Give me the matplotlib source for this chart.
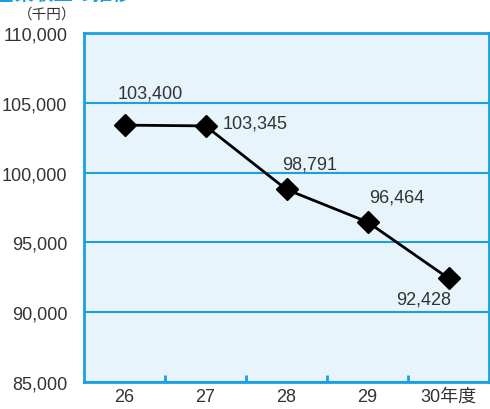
import matplotlib
matplotlib.use("Agg")
import matplotlib.pyplot as plt
from matplotlib.ticker import FuncFormatter, FixedLocator

plt.rcParams["font.family"] = ["Liberation Sans", "Noto Sans CJK JP", "DejaVu Sans"]

# ── Data ──────────────────────────────────────────────────────────────────────
years = ["26", "27", "28", "29", "30年度"]
values = [103400, 103345, 98791, 96464, 92428]
yticks = [85000, 90000, 95000, 100000, 105000, 110000]

BLUE = "#1aa0e0"
BG = "#e8f4fc"
TXT = "#333333"

fig = plt.figure(figsize=(4.9, 4.1), dpi=100)
ax = fig.add_axes([84 / 490, 1 - 383 / 410, 405 / 490, 349 / 410])
ax.set_facecolor(BG)

x = list(range(len(years)))
ax.plot(x, values, color="black", lw=2, marker="D", ms=11, mfc="black", mec="black", zorder=3)

ax.set_xlim(-0.5, len(years) - 0.5)
ax.set_ylim(85000, 110000)
ax.set_yticks(yticks)
ax.yaxis.set_major_formatter(FuncFormatter(lambda v, p: f"{int(v):,}"))
ax.grid(axis="y", color=BLUE, lw=1.5)
ax.set_axisbelow(True)

ax.set_xticks(x)
ax.set_xticklabels(years)
ax.xaxis.set_minor_locator(FixedLocator([i + 0.5 for i in range(len(years) - 1)]))
ax.tick_params(axis="x", which="major", length=0, pad=4, labelsize=13, labelcolor=TXT)
ax.tick_params(axis="x", which="minor", direction="in", length=5, width=2, color=BLUE)
ax.tick_params(axis="y", length=0, pad=12, labelsize=13, labelcolor=TXT)

for s in ax.spines.values():
    s.set_color(BLUE)
    s.set_linewidth(2)

# value labels
offsets = [(-5, 17, "left", "bottom"), (12, 2, "left", "center"), (-3, 12, "left", "bottom"),
           (1, 12, "left", "bottom"), (-18, -9, "center", "top")]
for xi, v, (dx, dy, ha, va) in zip(x, values, offsets):
    ax.annotate(f"{v:,}", (xi, v), xytext=(dx, dy), textcoords="offset points",
                ha=ha, va=va, fontsize=13, color=TXT)

fig.text(76 / 490, 1 - 15 / 410, "（千円）", ha="right", va="center", fontsize=10.5, color=TXT,
         family=["Noto Sans CJK JP", "DejaVu Sans"])
# title, mostly above the top edge as in the source image
fig.text(-0.01, 1.013, "営業収益の推移", ha="left", va="center", fontsize=14,
         fontweight="bold", color=BLUE, family=["Noto Sans CJK JP", "DejaVu Sans"])

fig.savefig("out.png", dpi=100)
